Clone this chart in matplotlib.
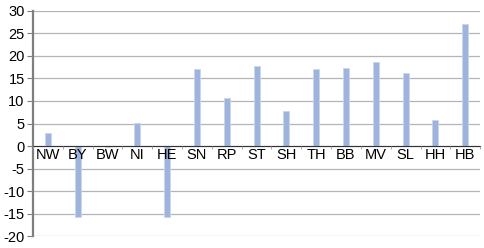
import numpy as np
import matplotlib.pyplot as plt

# Daten
laender = ["NW", "BY", "BW", "NI", "HE", "SN", "RP", "ST", "SH", "TH", "BB", "MV", "SL", "HH", "HB"]
werte = [2.8, -15.8, -0.2, 5.2, -15.8, 17.1, 10.7, 17.7, 7.7, 17.2, 17.4, 18.7, 16.2, 5.7, 27.0]
y_ticks = [-20, -15, -10, -5, 0, 5, 10, 15, 20, 25, 30]

plt.rcParams['font.family'] = ['Liberation Sans', 'DejaVu Sans']

fig = plt.figure(figsize=(4.85, 2.48), dpi=100)
ax = fig.add_axes([0.068, 0.048, 0.922, 0.908])

x = np.arange(len(laender))
ax.bar(x, werte, width=0.2, color="#9fb4dc", edgecolor="#c9d6ee", linewidth=0.6, zorder=3)

ax.set_ylim(-20, 30)
ax.set_xlim(-0.5, len(laender) - 0.5)
ax.set_yticks(y_ticks)
ax.set_yticklabels([str(t) for t in y_ticks], fontsize=10.5)
ax.yaxis.grid(True, color="#b4b4b4", linewidth=0.9)
ax.set_axisbelow(True)
# Beschriftungen der x-Achse liegen über den Balken
ax.xaxis.set_zorder(5)

for s in ["top", "right"]:
    ax.spines[s].set_visible(False)
ax.spines["left"].set_color("#7f7f7f")
ax.spines["left"].set_linewidth(1.6)
ax.spines["bottom"].set_position(("data", 0))
ax.spines["bottom"].set_color("#333333")
ax.spines["bottom"].set_linewidth(0.8)
ax.spines["bottom"].set_zorder(4)

ax.tick_params(axis="y", length=4, width=0.8, color="#7f7f7f", pad=2)
ax.set_xticks(x)
ax.set_xticklabels(laender, fontsize=10.5)
ax.tick_params(axis="x", length=0, pad=1.5)
ax.set_xticks(np.arange(len(laender) + 1) - 0.5, minor=True)
ax.tick_params(axis="x", which="minor", length=2.5, color="#999999", direction="out")

fig.savefig("out.png", dpi=100)
